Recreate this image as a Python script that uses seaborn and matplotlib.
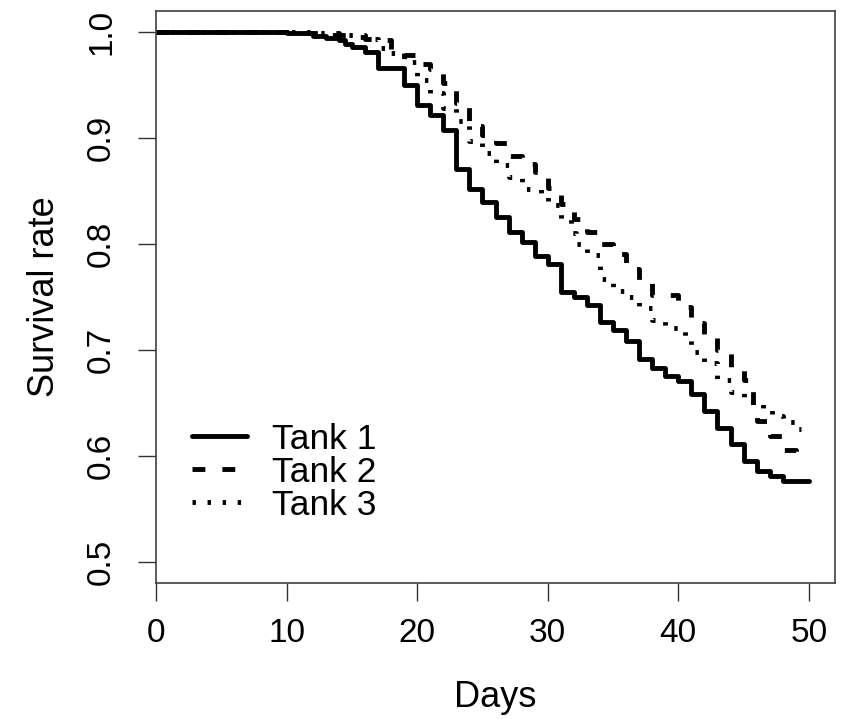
import matplotlib
matplotlib.use("Agg")
import matplotlib.pyplot as plt
import seaborn as sns

# Kaplan-Meier style survival curves (step changes)
tank1_days = [0, 10, 12, 13, 14, 14.5, 15, 16, 17, 19, 20, 21, 22, 23, 24, 25, 26, 27, 28,
              29, 30, 31, 32, 33, 34, 35, 36, 37, 38, 39, 40, 41, 42, 43, 44, 45, 46,
              47, 48, 50]
tank1_surv = [1.0, 0.9988, 0.9965, 0.9947, 0.9925, 0.989, 0.986, 0.9815, 0.966, 0.950,
              0.9315, 0.922, 0.908, 0.8705, 0.852, 0.8393, 0.8252, 0.811, 0.8017, 0.789,
              0.7814, 0.7549, 0.7502, 0.7423, 0.7267, 0.719, 0.708, 0.691, 0.683, 0.675,
              0.6705, 0.658, 0.6423, 0.6266, 0.611, 0.5954, 0.586, 0.5813, 0.576, 0.576]

tank2_days = [0, 11, 13, 15, 16, 17, 18, 19, 20, 21, 22, 23, 24, 25, 26, 27, 28, 29, 30,
              31, 32, 33, 34, 35, 36, 37, 38, 40, 41, 42, 43, 44, 45, 45.7, 46, 47, 48,
              49, 49.4]
tank2_surv = [1.0, 0.9988, 0.997, 0.9956, 0.994, 0.9925, 0.982, 0.978, 0.970, 0.965,
              0.952, 0.933, 0.911, 0.903, 0.8956, 0.883, 0.876, 0.868, 0.853, 0.838,
              0.824, 0.811, 0.800, 0.791, 0.776, 0.764, 0.752, 0.741, 0.725, 0.713,
              0.700, 0.683, 0.672, 0.648, 0.633, 0.619, 0.606, 0.600, 0.600]

tank3_days = [0, 12, 14, 16, 17, 18, 19, 20, 21, 22, 23, 24, 25, 26, 27, 28, 29.5, 30,
              31, 31.8, 32.2, 33, 34, 35, 36, 37, 38, 39, 40.5, 41, 42, 43, 44, 45, 46.5,
              47.2, 48, 49, 49.4]
tank3_surv = [1.0, 0.999, 0.997, 0.994, 0.985, 0.98, 0.972, 0.955, 0.943, 0.928, 0.916,
              0.897, 0.886, 0.875, 0.863, 0.852, 0.846, 0.837, 0.824, 0.810, 0.800,
              0.790, 0.767, 0.7555, 0.750, 0.740, 0.728, 0.721, 0.712, 0.698, 0.688,
              0.672, 0.660, 0.651, 0.645, 0.638, 0.632, 0.625, 0.625]

labels = ["Tank 1", "Tank 2", "Tank 3"]
styles = ["-", (0, (2.65, 3.5)), (0, (0.7, 2.4))]

sns.set_theme(style="white")
plt.rcParams["font.family"] = ["Liberation Sans", "DejaVu Sans"]
TICK_FS = 24
LAB_FS = 26
LEG_FS = 25.5

fig = plt.figure(figsize=(8.46, 7.19), dpi=100)
ax = fig.add_axes([156 / 846, 1 - 583 / 719, 679 / 846, 572 / 719])

series = [(tank1_days, tank1_surv), (tank2_days, tank2_surv), (tank3_days, tank3_surv)]
for (d, s), lab, ls in zip(series, labels, styles):
    sns.lineplot(x=d, y=s, ax=ax, color="black", linestyle=ls, linewidth=3.5,
                 drawstyle="steps-post", label=lab, errorbar=None, sort=False)

ax.set_xlim(0, 52)
ax.set_ylim(0.48, 1.02)
ax.set_xticks([0, 10, 20, 30, 40, 50])
ax.set_yticks([0.5, 0.6, 0.7, 0.8, 0.9, 1.0])
ax.set_yticklabels(["0.5", "0.6", "0.7", "0.8", "0.9", "1.0"])
ax.tick_params(axis="both", direction="out", length=13, width=1, color="#333333",
               labelsize=TICK_FS, labelcolor="black", left=True, bottom=True)
ax.tick_params(axis="x", pad=12.5)
ax.tick_params(axis="y", labelrotation=90, pad=15)
for t in ax.get_yticklabels():
    t.set_va("center")
for sp in ax.spines.values():
    sp.set_color("#404040")
    sp.set_linewidth(1.2)

ax.set_xlabel("Days", fontsize=LAB_FS, color="black", labelpad=22)
ax.set_ylabel("Survival rate", fontsize=LAB_FS, color="black", labelpad=17)

leg = ax.legend(loc="upper left", bbox_to_anchor=(0.053, 0.28), frameon=False,
                fontsize=LEG_FS, handlelength=1.55, handletextpad=0.7, labelspacing=0.0,
                borderpad=0, borderaxespad=0)
for t in leg.get_texts():
    t.set_color("black")

fig.savefig("out.png", dpi=100)
